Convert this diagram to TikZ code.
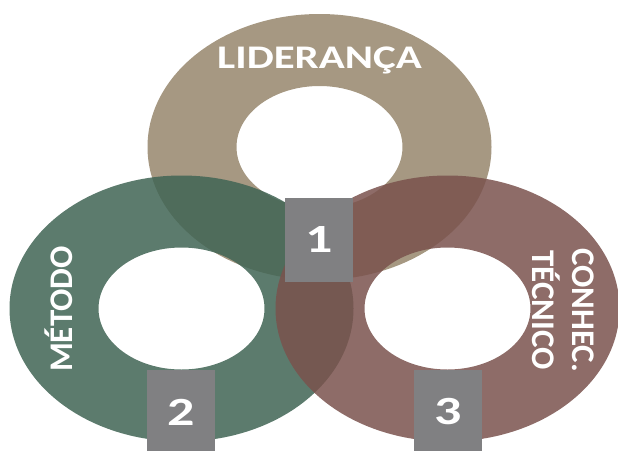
\documentclass[tikz,border=0pt]{standalone}
\usepackage{fontspec}
\newfontfamily\ringfont{Carlito}
\definecolor{lidcolor}{RGB}{150,134,108}
\definecolor{metcolor}{RGB}{64,100,84}
\definecolor{teccolor}{RGB}{122,82,77}
\definecolor{numgray}{RGB}{128,128,130}
\tikzset{
	% rings
	ring/.style={even odd rule,fill opacity=0.85},
	% texts on the rings
	ringlabel/.style={text=white,inner sep=0pt,align=center,
		font=\ringfont\bfseries\fontsize{33}{40}\selectfont},
	% number boxes
	numbox/.style={fill=numgray,text=white,inner sep=0pt,
		minimum width=68pt,minimum height=84pt},
	numtext/.style={text=white,inner sep=0pt,xscale=1.35,transform shape,
		font=\ringfont\bfseries\fontsize{40}{40}\selectfont},
}
\begin{document}
\begin{tikzpicture}[x=1pt,y=-1pt]
	\useasboundingbox (0,0) rectangle (618,450);
	
	\fill[ring,lidcolor] (319.5,147) ellipse (172 and 133) (319.5,147) ellipse (83 and 61);
	\fill[ring,metcolor] (181.5,308.5) ellipse (172 and 133) (181.5,308.5) ellipse (83 and 61);
	\fill[ring,teccolor] (447.5,308.5) ellipse (172 and 133) (447.5,308.5) ellipse (83 and 61);
	
	\node[ringlabel,anchor=base,xscale=1.3,transform shape] (lid) at (319.5,68) {LIDERANÇA};
	\node[ringlabel,rotate=90] (met) at (59,309) {MÉTODO};
	\node[ringlabel,rotate=-90] (tec) at (563.5,310) {CONHEC.\\TÉCNICO};
	
	\node[numbox] (n1) at (319,240) {};
	\node[numbox] (n2) at (181,412) {};
	\node[numbox] (n3) at (448,412) {};
	\node[numtext] (t1) at (n1) {1};
	\node[numtext] (t2) at (n2) {2};
	\node[numtext] (t3) at (n3) {3};
\end{tikzpicture}
\end{document}
